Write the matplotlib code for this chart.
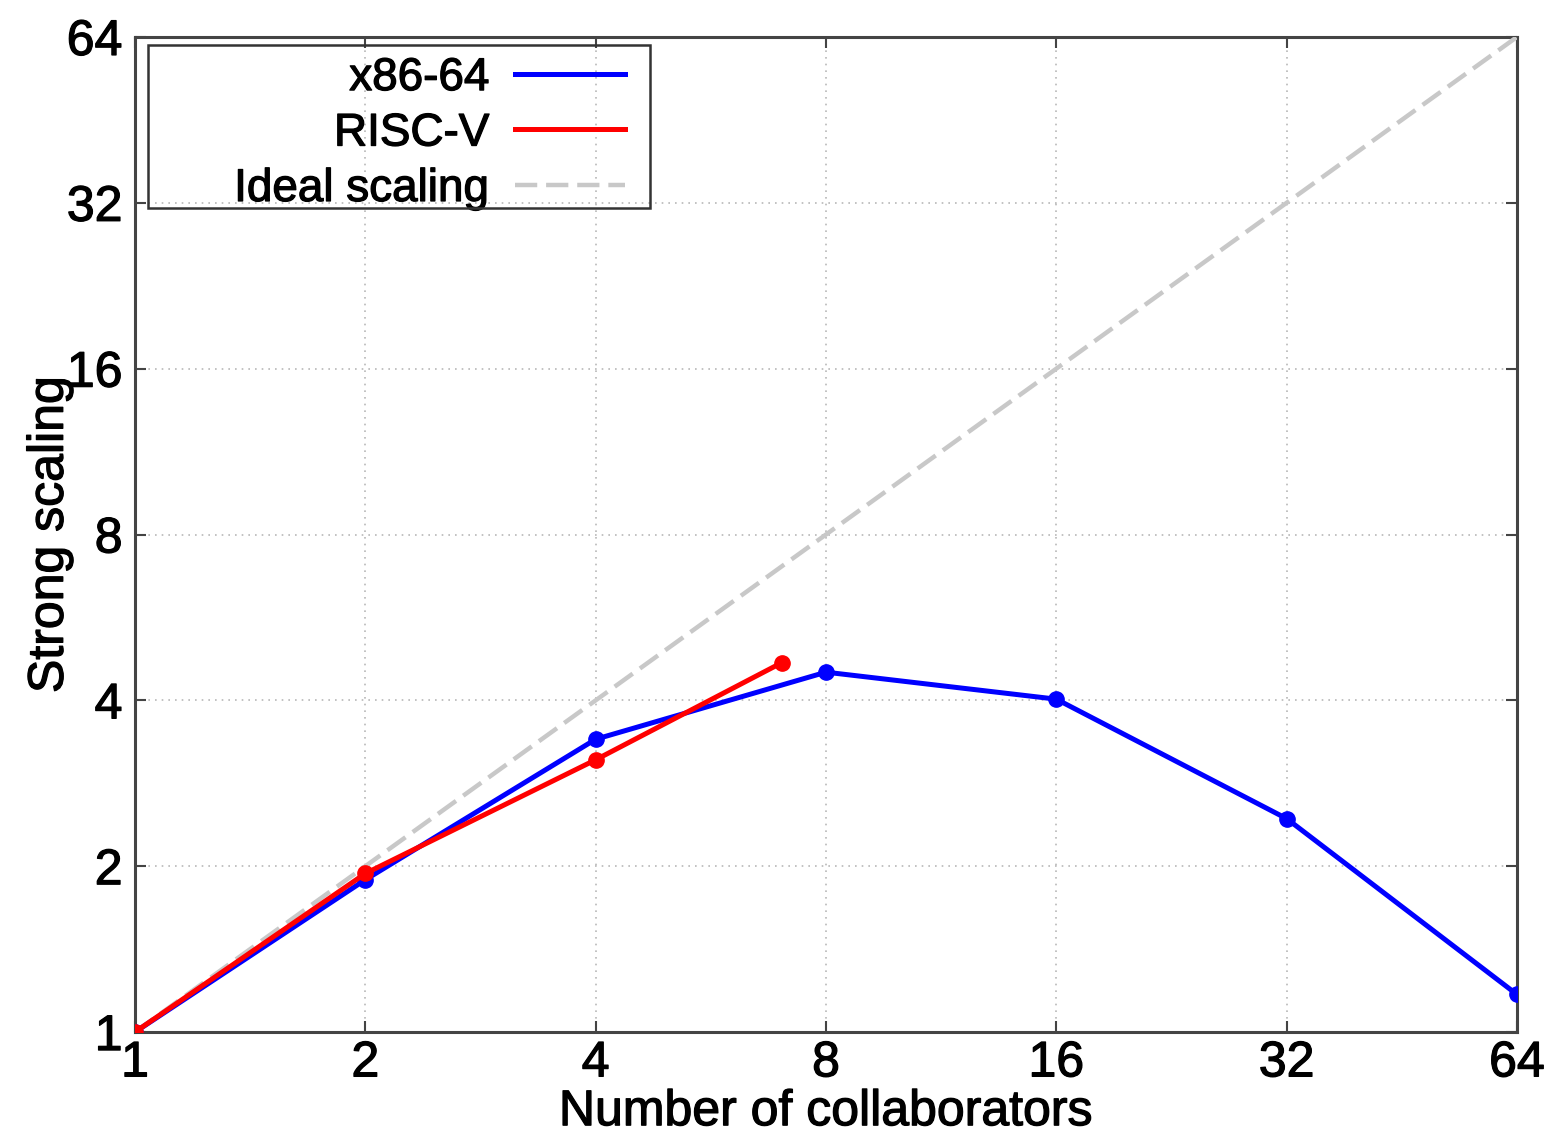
import numpy as np
import matplotlib.pyplot as plt
import matplotlib.patheffects as pe
from matplotlib.patches import Rectangle
from matplotlib.ticker import FixedLocator, FixedFormatter, NullLocator

plt.rcParams['font.family'] = ['Liberation Sans', 'DejaVu Sans']

# strong scaling measurements
x86_workers = [1, 2, 4, 8, 16, 32, 64]
x86_speedup = [1.0, 1.89, 3.40, 4.50, 4.02, 2.44, 1.17]
riscv_workers = [1, 2, 4, 7]
riscv_speedup = [1.0, 1.94, 3.12, 4.68]
ideal = [1, 64]
ticks = [1, 2, 4, 8, 16, 32, 64]

# slightly heavier glyphs for all text
thick = [pe.withStroke(linewidth=0.9, foreground='black')]

fig = plt.figure(figsize=(15.57, 11.48), dpi=100)
ax = fig.add_axes([0.0867, 0.101, 0.8876, 0.8668])

ax.plot(x86_workers, x86_speedup, color='blue', lw=3.6, marker='o', ms=11, label='x86-64', zorder=4)
ax.plot(riscv_workers, riscv_speedup, color='red', lw=3.6, marker='o', ms=11, label='RISC-V', zorder=5)
ax.plot(ideal, ideal, color='#c8c8c8', lw=3.2, ls=(0, (5, 2)), label='Ideal scaling', zorder=3)

ax.set_xscale('log', base=2)
ax.set_yscale('log', base=2)
ax.set_xlim(1, 64)
ax.set_ylim(1, 64)
for axis in (ax.xaxis, ax.yaxis):
    axis.set_major_locator(FixedLocator(ticks))
    axis.set_major_formatter(FixedFormatter([str(t) for t in ticks]))
    axis.set_minor_locator(NullLocator())

ax.tick_params(direction='in', length=8, width=1.5, labelsize=36, pad=9,
               top=True, right=True, color='#444444')
ax.tick_params(axis='x', pad=6)
ax.grid(True, ls=(0, (1, 3)), color='#b8b8b8', lw=1.2)
for s in ax.spines.values():
    s.set_color('#444444')
    s.set_linewidth(2.2)

ax.set_xlabel('Number of collaborators', fontsize=36, labelpad=2)
ax.set_ylabel('Strong scaling', fontsize=36)
ax.yaxis.set_label_coords(-0.045, 0.5)

leg = ax.legend(loc='upper right', fontsize=33, markerfirst=False, handlelength=2.4,
                frameon=False, borderpad=0.2, borderaxespad=0,
                labelspacing=0.25, handletextpad=0.55,
                bbox_to_anchor=(0.361, 0.99))
for h in leg.legend_handles:
    h.set_marker('')
for t in leg.get_texts():
    t.set_ha('right')
    t.set_path_effects(thick)

# legend frame, wider than the entries
ax.add_patch(Rectangle((0.0094, 0.828), 0.3633, 0.164, transform=ax.transAxes,
                       fill=False, edgecolor='#333333', lw=1.8, zorder=6))

for t in ax.get_xticklabels() + ax.get_yticklabels() + [ax.xaxis.label, ax.yaxis.label]:
    t.set_path_effects(thick)

fig.savefig('out.png', dpi=100)
